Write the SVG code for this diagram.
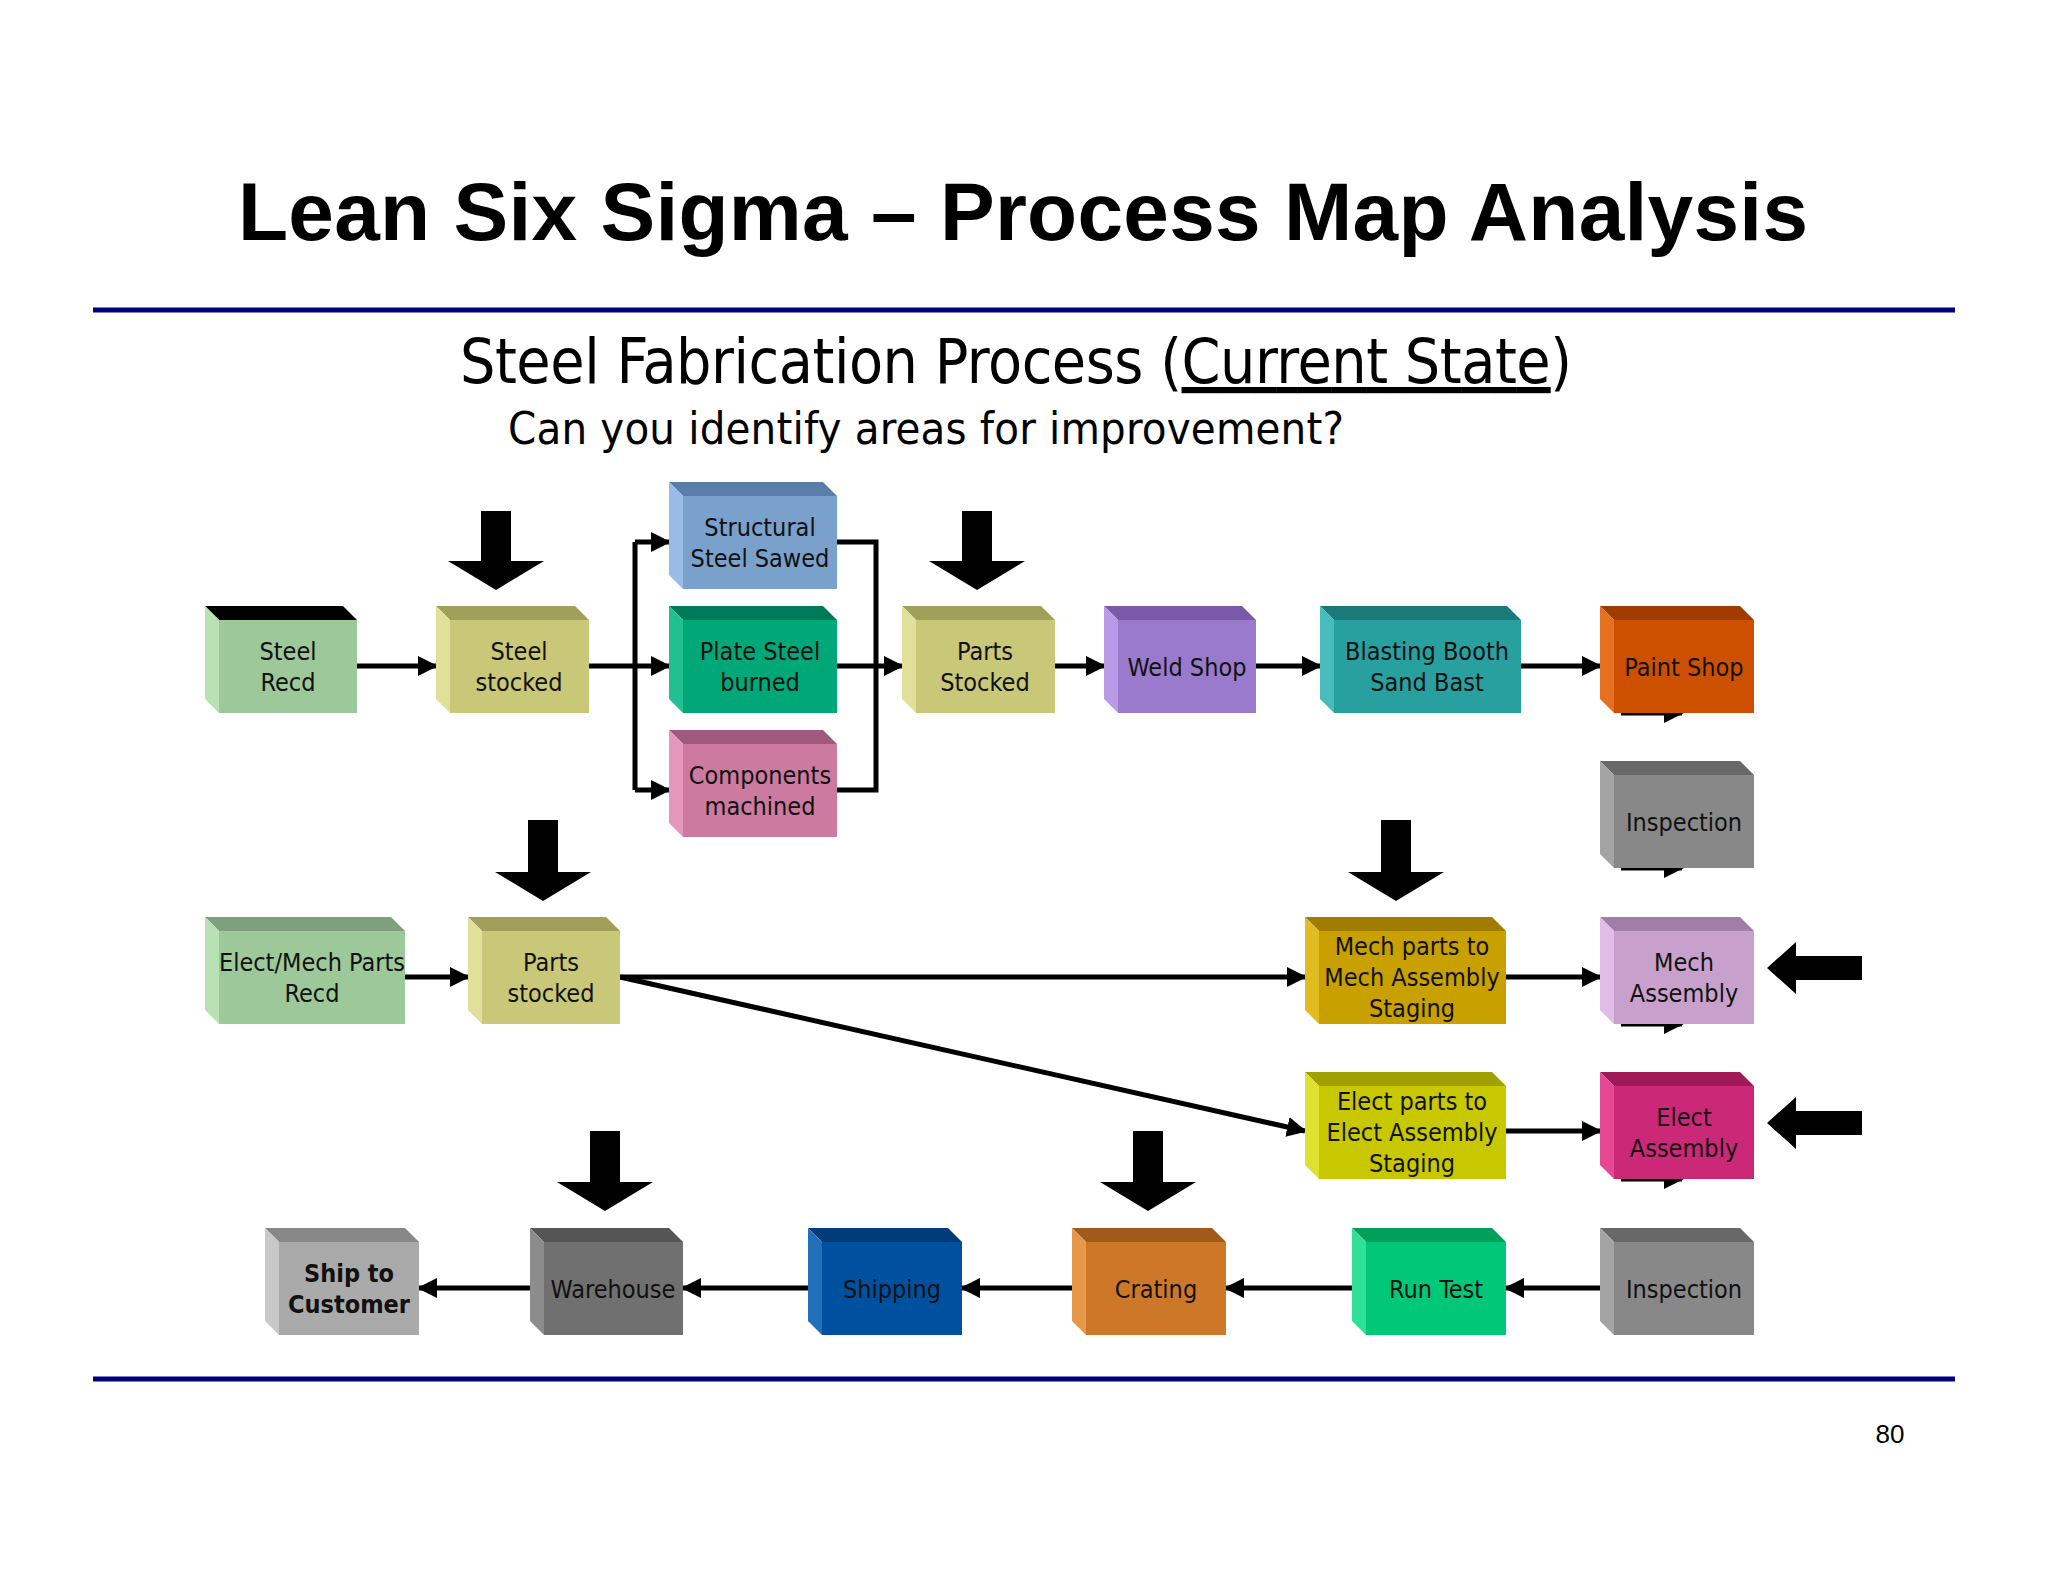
<svg xmlns="http://www.w3.org/2000/svg" width="2048" height="1582" viewBox="0 0 2048 1582">
<defs>
<marker id="ah" viewBox="0 0 10 10" refX="9" refY="5" markerWidth="4" markerHeight="4" orient="auto" markerUnits="strokeWidth"><path d="M0,0 L10,5 L0,10 z" fill="#000"/></marker>
</defs>
<style>
.t{fill:#000;opacity:.2}.l{fill:#fff;opacity:.3}
.n text{font-family:"DejaVu Sans Condensed","DejaVu Sans",sans-serif;font-size:25px;text-anchor:middle;fill:#111}
.c{stroke:#000;stroke-width:5;fill:none}
.c .a{marker-end:url(#ah)}
.big{fill:#000}
</style>
<rect width="2048" height="1582" fill="#fff"/>
<text x="1023" y="240" font-family="Liberation Sans,Arial,sans-serif" font-weight="bold" font-size="82" text-anchor="middle" textLength="1570">Lean Six Sigma – Process Map Analysis</text>
<line x1="93" y1="310" x2="1955" y2="310" stroke="#000080" stroke-width="5"/>
<line x1="93" y1="1379" x2="1955" y2="1379" stroke="#000080" stroke-width="5"/>
<text x="460" y="383" font-family="DejaVu Sans Condensed,DejaVu Sans,sans-serif" font-size="62" textLength="1112">Steel Fabrication Process (<tspan text-decoration="underline">Current State</tspan>)</text>
<text x="508" y="444" font-family="DejaVu Sans Condensed,DejaVu Sans,sans-serif" font-size="45" textLength="836">Can you identify areas for improvement?</text>
<text x="1890" y="1443" font-family="Liberation Sans,Arial,sans-serif" font-size="26" text-anchor="middle">80</text>

<g id="connectors" class="c">
<line class="a" x1="357" y1="666" x2="436" y2="666"/>
<polyline points="589,666 635,666"/>
<polyline class="a" points="635,542 669,542"/>
<line x1="635" y1="542" x2="635" y2="790"/>
<line class="a" x1="635" y1="666" x2="669" y2="666"/>
<polyline class="a" points="635,790 669,790"/>
<polyline points="837,542 876,542 876,790 837,790"/>
<line class="a" x1="837" y1="666" x2="902" y2="666"/>
<line class="a" x1="1055" y1="666" x2="1104" y2="666"/>
<line class="a" x1="1256" y1="666" x2="1320" y2="666"/>
<line class="a" x1="1521" y1="666" x2="1600" y2="666"/>
<line class="a" x1="1621" y1="713" x2="1682" y2="713"/>
<line class="a" x1="1621" y1="868" x2="1682" y2="868"/>
<line class="a" x1="1621" y1="1024" x2="1682" y2="1024"/>
<line class="a" x1="1621" y1="1179" x2="1682" y2="1179"/>
<line class="a" x1="405" y1="977" x2="468" y2="977"/>
<line class="a" x1="620" y1="977" x2="1305" y2="977"/>
<line class="a" x1="620" y1="977" x2="1305" y2="1131"/>
<line class="a" x1="1506" y1="977" x2="1600" y2="977"/>
<line class="a" x1="1506" y1="1131" x2="1600" y2="1131"/>
<line class="a" x1="1600" y1="1288" x2="1506" y2="1288"/>
<line class="a" x1="1352" y1="1288" x2="1226" y2="1288"/>
<line class="a" x1="1072" y1="1288" x2="962" y2="1288"/>
<line class="a" x1="808" y1="1288" x2="683" y2="1288"/>
<line class="a" x1="530" y1="1288" x2="419" y2="1288"/>
</g>

<g id="indicators" class="big">
<polygon points="481,511 511,511 511,561 544,561 496,590 448,561 481,561"/>
<polygon points="962,511 992,511 992,561 1025,561 977,590 929,561 962,561"/>
<polygon points="528,820 558,820 558,872 591,872 543,901 495,872 528,872"/>
<polygon points="1381,820 1411,820 1411,872 1444,872 1396,901 1348,872 1381,872"/>
<polygon points="590,1131 620,1131 620,1182 653,1182 605,1211 557,1182 590,1182"/>
<polygon points="1133,1131 1163,1131 1163,1182 1196,1182 1148,1211 1100,1182 1133,1182"/>
<polygon points="1862,956 1796,956 1796,942 1767,968 1796,994 1796,980 1862,980"/>
<polygon points="1862,1111 1796,1111 1796,1097 1767,1123 1796,1149 1796,1135 1862,1135"/>
</g>

<g id="steel-recd" class="n"><rect x="219" y="620" width="138" height="93" fill="#9cc89a"/><polygon class="t" points="205,606 343,606 357,620 219,620" fill="#7ea07c" style="opacity:1"/><polygon points="205,606 219,620 219,713 205,699" fill="#b8e2b4"/><text x="288" y="660">Steel</text><text x="288" y="691">Recd</text></g>

<g id="steel-stocked" class="n"><rect x="450" y="620" width="139" height="93" fill="#c8c878"/><polygon points="436,606 575,606 589,620 450,620" fill="#a0a05a"/><polygon points="436,606 450,620 450,713 436,699" fill="#e0e098"/><text x="519" y="660">Steel</text><text x="519" y="691">stocked</text></g>

<g id="structural" class="n"><rect x="683" y="496" width="154" height="93" fill="#7aa0cc"/><polygon points="669,482 823,482 837,496 683,496" fill="#5a7ea8"/><polygon points="669,482 683,496 683,589 669,575" fill="#98bce6"/><text x="760" y="536">Structural</text><text x="760" y="567">Steel Sawed</text></g>

<g id="plate" class="n"><rect x="683" y="620" width="154" height="93" fill="#00a878"/><polygon points="669,606 823,606 837,620 683,620" fill="#007a58"/><polygon points="669,606 683,620 683,713 669,699" fill="#20c090"/><text x="760" y="660">Plate Steel</text><text x="760" y="691">burned</text></g>

<g id="components" class="n"><rect x="683" y="744" width="154" height="93" fill="#cc7aa0"/><polygon points="669,730 823,730 837,744 683,744" fill="#a05a7e"/><polygon points="669,730 683,744 683,837 669,823" fill="#e698bc"/><text x="760" y="784">Components</text><text x="760" y="815">machined</text></g>

<g id="parts-stocked" class="n"><rect x="916" y="620" width="139" height="93" fill="#c8c878"/><polygon points="902,606 1041,606 1055,620 916,620" fill="#a0a05a"/><polygon points="902,606 916,620 916,713 902,699" fill="#e0e098"/><text x="985" y="660">Parts</text><text x="985" y="691">Stocked</text></g>

<g id="weld" class="n"><rect x="1118" y="620" width="138" height="93" fill="#9a7acc"/><polygon points="1104,606 1242,606 1256,620 1118,620" fill="#7a5aa8"/><polygon points="1104,606 1118,620 1118,713 1104,699" fill="#b89ae6"/><text x="1187" y="676">Weld Shop</text></g>

<g id="blasting" class="n"><rect x="1334" y="620" width="187" height="93" fill="#28a0a0"/><polygon points="1320,606 1507,606 1521,620 1334,620" fill="#1a7a7a"/><polygon points="1320,606 1334,620 1334,713 1320,699" fill="#48bcbc"/><text x="1427" y="660">Blasting Booth</text><text x="1427" y="691">Sand Bast</text></g>

<g id="paint" class="n"><rect x="1614" y="620" width="140" height="93" fill="#cc5000"/><polygon points="1600,606 1740,606 1754,620 1614,620" fill="#a03c00"/><polygon points="1600,606 1614,620 1614,713 1600,699" fill="#e67020"/><text x="1684" y="676">Paint Shop</text></g>

<g id="inspection1" class="n"><rect x="1614" y="775" width="140" height="93" fill="#888888"/><polygon points="1600,761 1740,761 1754,775 1614,775" fill="#686868"/><polygon points="1600,761 1614,775 1614,868 1600,854" fill="#a4a4a4"/><text x="1684" y="831">Inspection</text></g>

<g id="elect-mech" class="n"><rect x="219" y="931" width="186" height="93" fill="#9cc89a"/><polygon points="205,917 391,917 405,931 219,931" fill="#7ea07c"/><polygon points="205,917 219,931 219,1024 205,1010" fill="#b8e2b4"/><text x="312" y="971">Elect/Mech Parts</text><text x="312" y="1002">Recd</text></g>

<g id="parts-stocked2" class="n"><rect x="482" y="931" width="138" height="93" fill="#c8c878"/><polygon points="468,917 606,917 620,931 482,931" fill="#a0a05a"/><polygon points="468,917 482,931 482,1024 468,1010" fill="#e0e098"/><text x="551" y="971">Parts</text><text x="551" y="1002">stocked</text></g>

<g id="mech-parts" class="n"><rect x="1319" y="931" width="187" height="93" fill="#c8a000"/><polygon points="1305,917 1492,917 1506,931 1319,931" fill="#a07c00"/><polygon points="1305,917 1319,931 1319,1024 1305,1010" fill="#e0bc20"/><text x="1412" y="955">Mech parts to</text><text x="1412" y="986">Mech Assembly</text><text x="1412" y="1017">Staging</text></g>

<g id="mech-assembly" class="n"><rect x="1614" y="931" width="140" height="93" fill="#c8a0cc"/><polygon points="1600,917 1740,917 1754,931 1614,931" fill="#a07ea8"/><polygon points="1600,917 1614,931 1614,1024 1600,1010" fill="#e0bce6"/><text x="1684" y="971">Mech</text><text x="1684" y="1002">Assembly</text></g>

<g id="elect-parts" class="n"><rect x="1319" y="1086" width="187" height="93" fill="#c8c800"/><polygon points="1305,1072 1492,1072 1506,1086 1319,1086" fill="#a0a000"/><polygon points="1305,1072 1319,1086 1319,1179 1305,1165" fill="#e0e030"/><text x="1412" y="1110">Elect parts to</text><text x="1412" y="1141">Elect Assembly</text><text x="1412" y="1172">Staging</text></g>

<g id="elect-assembly" class="n"><rect x="1614" y="1086" width="140" height="93" fill="#cc2878"/><polygon points="1600,1072 1740,1072 1754,1086 1614,1086" fill="#a01a5a"/><polygon points="1600,1072 1614,1086 1614,1179 1600,1165" fill="#e64896"/><text x="1684" y="1126">Elect</text><text x="1684" y="1157">Assembly</text></g>

<g id="ship" class="n"><rect x="279" y="1242" width="140" height="93" fill="#aaaaaa"/><polygon points="265,1228 405,1228 419,1242 279,1242" fill="#888"/><polygon points="265,1228 279,1242 279,1335 265,1321" fill="#c8c8c8"/><text x="349" y="1282" font-weight="bold">Ship to</text><text x="349" y="1313" font-weight="bold">Customer</text></g>

<g id="warehouse" class="n"><rect x="544" y="1242" width="139" height="93" fill="#707070"/><polygon points="530,1228 669,1228 683,1242 544,1242" fill="#555"/><polygon points="530,1228 544,1242 544,1335 530,1321" fill="#8c8c8c"/><text x="613" y="1298">Warehouse</text></g>

<g id="shipping" class="n"><rect x="822" y="1242" width="140" height="93" fill="#0050a0"/><polygon points="808,1228 948,1228 962,1242 822,1242" fill="#003c7a"/><polygon points="808,1228 822,1242 822,1335 808,1321" fill="#2070bc"/><text x="892" y="1298">Shipping</text></g>

<g id="crating" class="n"><rect x="1086" y="1242" width="140" height="93" fill="#cc7828"/><polygon points="1072,1228 1212,1228 1226,1242 1086,1242" fill="#a05a1a"/><polygon points="1072,1228 1086,1242 1086,1335 1072,1321" fill="#e69848"/><text x="1156" y="1298">Crating</text></g>

<g id="run-test" class="n"><rect x="1366" y="1242" width="140" height="93" fill="#00c878"/><polygon points="1352,1228 1492,1228 1506,1242 1366,1242" fill="#00a05a"/><polygon points="1352,1228 1366,1242 1366,1335 1352,1321" fill="#30e096"/><text x="1436" y="1298">Run Test</text></g>

<g id="inspection2" class="n"><rect x="1614" y="1242" width="140" height="93" fill="#888888"/><polygon points="1600,1228 1740,1228 1754,1242 1614,1242" fill="#686868"/><polygon points="1600,1228 1614,1242 1614,1335 1600,1321" fill="#a4a4a4"/><text x="1684" y="1298">Inspection</text></g>
</svg>
